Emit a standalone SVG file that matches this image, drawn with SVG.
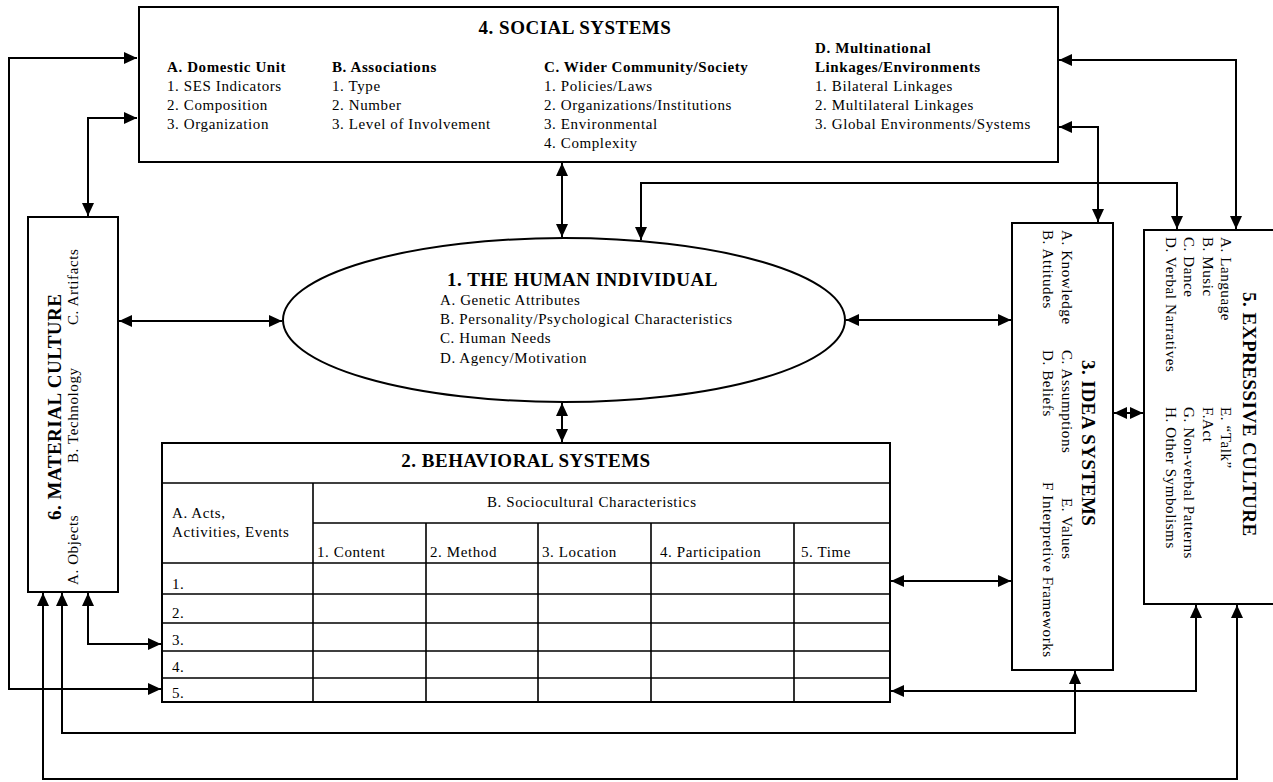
<svg xmlns="http://www.w3.org/2000/svg" width="1273" height="782" viewBox="0 0 1273 782">
<style>
.t{font-family:"Liberation Serif","Times New Roman",serif;font-size:15px;letter-spacing:0.6px;fill:#000}
.b{font-weight:bold}
.h{font-family:"Liberation Serif","Times New Roman",serif;font-size:19px;font-weight:bold;letter-spacing:0.5px;fill:#000}
.box{fill:#fff;stroke:#000;stroke-width:2}
.grid{stroke:#000;stroke-width:1.6;fill:none}
.c{fill:none;stroke:#000;stroke-width:2;marker-start:url(#ah);marker-end:url(#ah)}
</style>
<defs>
<marker id="ah" markerUnits="userSpaceOnUse" markerWidth="14" markerHeight="12" viewBox="0 0 14 12" refX="13" refY="6" orient="auto-start-reverse">
<path d="M0,0 L13,6 L0,12 z" fill="#000"/>
</marker>
</defs>
<rect width="1273" height="782" fill="#fff"/>

<g id="connectors">
<path class="c" d="M137,58 H9 V689 H161"/>
<path class="c" d="M137,118 H88 V216"/>
<path class="c" d="M119,321 H282"/>
<path class="c" d="M562,163 V237"/>
<path class="c" d="M562,403 V442"/>
<path class="c" d="M641,240 V183 H1177 V229"/>
<path class="c" d="M1059,60 H1236 V229"/>
<path class="c" d="M1059,127 H1098 V222"/>
<path class="c" d="M846,320 H1011"/>
<path class="c" d="M1114,413 H1143"/>
<path class="c" d="M891,581 H1011"/>
<path class="c" d="M891,691 H1196 V605"/>
<path class="c" d="M88,593 V644 H161"/>
<path class="c" d="M62,593 V733 H1075 V671"/>
<path class="c" d="M43,593 V779 H1237 V605"/>
</g>

<g id="social-systems">
<rect class="box" x="139" y="7" width="919" height="155"/>
<text class="h" x="575" y="34" text-anchor="middle">4. SOCIAL SYSTEMS</text>
<text class="t b" x="167" y="72">A. Domestic Unit</text>
<text class="t" x="167" y="91">1. SES Indicators</text>
<text class="t" x="167" y="110">2. Composition</text>
<text class="t" x="167" y="129">3. Organization</text>
<text class="t b" x="332" y="72">B. Associations</text>
<text class="t" x="332" y="91">1. Type</text>
<text class="t" x="332" y="110">2. Number</text>
<text class="t" x="332" y="129">3. Level of Involvement</text>
<text class="t b" x="544" y="72">C. Wider Community/Society</text>
<text class="t" x="544" y="91">1. Policies/Laws</text>
<text class="t" x="544" y="110">2. Organizations/Institutions</text>
<text class="t" x="544" y="129">3. Environmental</text>
<text class="t" x="544" y="148">4. Complexity</text>
<text class="t b" x="815" y="53">D. Multinational</text>
<text class="t b" x="815" y="72">Linkages/Environments</text>
<text class="t" x="815" y="91">1. Bilateral Linkages</text>
<text class="t" x="815" y="110">2. Multilateral Linkages</text>
<text class="t" x="815" y="129">3. Global Environments/Systems</text>
</g>

<g id="human-individual">
<ellipse class="box" cx="564" cy="320" rx="281" ry="82"/>
<text class="h" x="447" y="286">1. THE HUMAN INDIVIDUAL</text>
<text class="t" x="440" y="305">A. Genetic Attributes</text>
<text class="t" x="440" y="324">B. Personality/Psychological Characteristics</text>
<text class="t" x="440" y="343">C. Human Needs</text>
<text class="t" x="440" y="363">D. Agency/Motivation</text>
</g>

<g id="material-culture">
<rect class="box" x="28" y="217" width="90" height="375"/>
<text class="h" transform="translate(61,520) rotate(-90)">6. MATERIAL CULTURE</text>
<text class="t" transform="translate(78,585) rotate(-90)">A. Objects</text>
<text class="t" transform="translate(78,463) rotate(-90)">B. Technology</text>
<text class="t" transform="translate(78,325) rotate(-90)">C. Artifacts</text>
</g>

<g id="behavioral-systems">
<rect class="box" x="162" y="443" width="728" height="259"/>
<path class="grid" d="M162,483 H890 M313,523 H890 M162,563 H890 M162,594 H890 M162,623 H890 M162,651 H890 M162,678 H890 M313,483 V702 M426,523 V702 M538,523 V702 M651,523 V702 M794,523 V702"/>
<text class="h" x="526" y="467" text-anchor="middle">2. BEHAVIORAL SYSTEMS</text>
<text class="t" x="172" y="518">A. Acts,</text>
<text class="t" x="172" y="537">Activities, Events</text>
<text class="t" x="487" y="507">B. Sociocultural Characteristics</text>
<text class="t" x="317" y="557">1. Content</text>
<text class="t" x="430" y="557">2. Method</text>
<text class="t" x="542" y="557">3. Location</text>
<text class="t" x="660" y="557">4. Participation</text>
<text class="t" x="801" y="557">5. Time</text>
<text class="t" x="172" y="589">1.</text>
<text class="t" x="172" y="618">2.</text>
<text class="t" x="172" y="645">3.</text>
<text class="t" x="172" y="672">4.</text>
<text class="t" x="172" y="698">5.</text>
</g>

<g id="idea-systems">
<rect class="box" x="1012" y="223" width="101" height="447"/>
<text class="h" transform="translate(1082,360) rotate(90)">3. IDEA SYSTEMS</text>
<text class="t" transform="translate(1062,230) rotate(90)">A. Knowledge</text>
<text class="t" transform="translate(1062,350) rotate(90)">C. Assumptions</text>
<text class="t" transform="translate(1062,498) rotate(90)">E. Values</text>
<text class="t" transform="translate(1043,230) rotate(90)">B. Attitudes</text>
<text class="t" transform="translate(1043,350) rotate(90)">D. Beliefs</text>
<text class="t" transform="translate(1043,482) rotate(90)">F Interpretive Frameworks</text>
</g>

<g id="expressive-culture">
<rect class="box" x="1144" y="230" width="140" height="374"/>
<text class="h" transform="translate(1243,292) rotate(90)">5. EXPRESSIVE CULTURE</text>
<text class="t" transform="translate(1221,237) rotate(90)">A. Language</text>
<text class="t" transform="translate(1203,237) rotate(90)">B. Music</text>
<text class="t" transform="translate(1184,237) rotate(90)">C. Dance</text>
<text class="t" transform="translate(1166,237) rotate(90)">D. Verbal Narratives</text>
<text class="t" transform="translate(1221,407) rotate(90)">E. “Talk”</text>
<text class="t" transform="translate(1203,407) rotate(90)">F.Act</text>
<text class="t" transform="translate(1184,407) rotate(90)">G. Non-verbal Patterns</text>
<text class="t" transform="translate(1166,407) rotate(90)">H. Other Symbolisms</text>
</g>
</svg>
